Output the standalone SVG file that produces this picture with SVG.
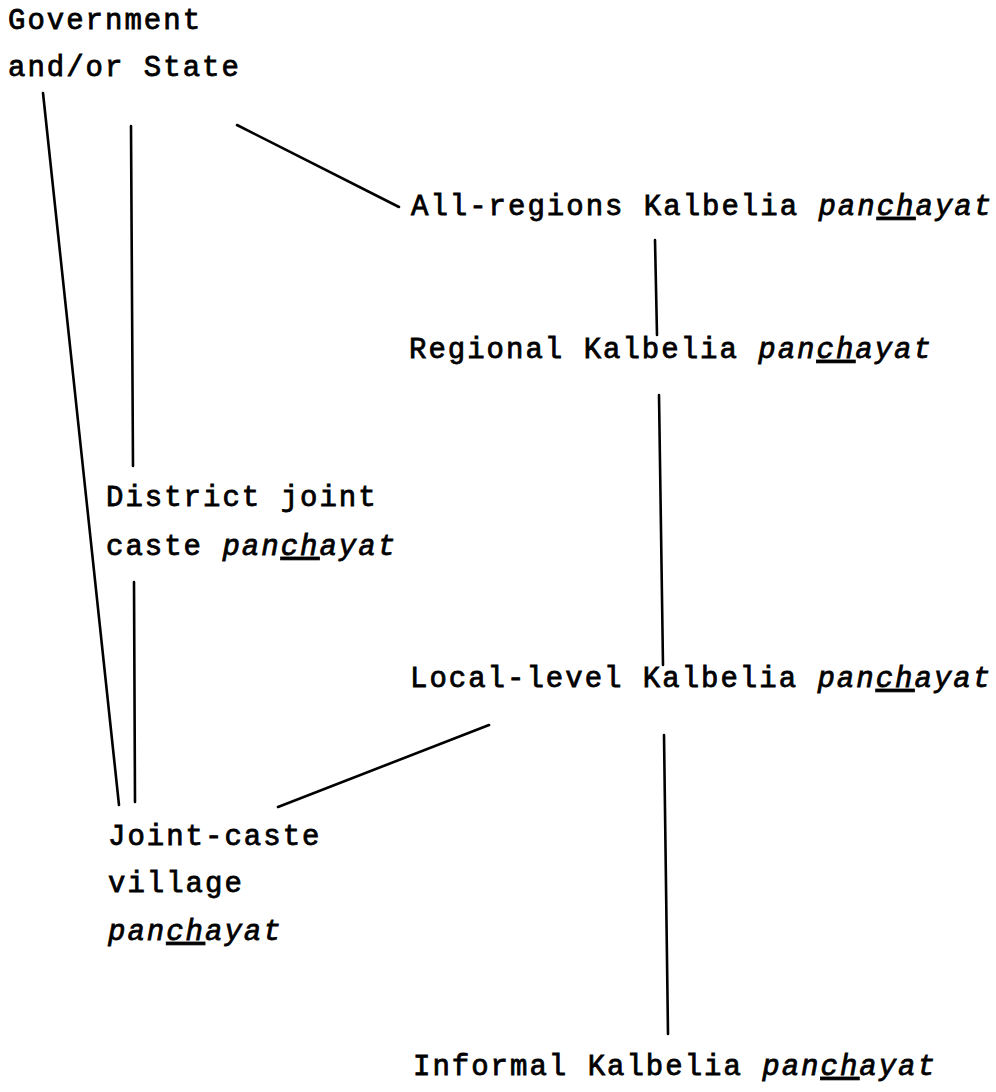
<svg xmlns="http://www.w3.org/2000/svg" width="996" height="1092" viewBox="0 0 996 1092">
<style>
text{font-family:"Liberation Mono","Courier New",monospace;font-size:29px;letter-spacing:2px;fill:#000;stroke:#000;stroke-width:0.8}
.i{font-style:italic}
.u{text-decoration:underline}
.c line{stroke:#000;stroke-width:2.6;stroke-linecap:round}
</style>
<rect width="996" height="1092" fill="#fff"/>
<g id="gov"><text x="8" y="29">Government</text><text x="8" y="76">and/or State</text></g>
<g id="allregions"><text x="411" y="215">All-regions Kalbelia <tspan class="i">pan<tspan class="u">ch</tspan>ayat</tspan></text></g>
<g id="regional"><text x="409" y="358">Regional Kalbelia <tspan class="i">pan<tspan class="u">ch</tspan>ayat</tspan></text></g>
<g id="district"><text x="106" y="506">District joint</text><text x="106" y="555">caste <tspan class="i">pan<tspan class="u">ch</tspan>ayat</tspan></text></g>
<g id="local"><text x="410" y="687">Local-level Kalbelia <tspan class="i">pan<tspan class="u">ch</tspan>ayat</tspan></text></g>
<g id="village"><text x="108" y="845">Joint-caste</text><text x="108" y="892">village</text><text x="108" y="940" class="i">pan<tspan class="u">ch</tspan>ayat</text></g>
<g id="informal"><text x="413" y="1075">Informal Kalbelia <tspan class="i">pan<tspan class="u">ch</tspan>ayat</tspan></text></g>
<g class="c" id="connectors">
<line x1="43" y1="93" x2="119" y2="805"/>
<line x1="131" y1="126" x2="133" y2="466"/>
<line x1="134" y1="582" x2="135" y2="802"/>
<line x1="237" y1="125" x2="399" y2="207"/>
<line x1="655" y1="240" x2="657" y2="335"/>
<line x1="659" y1="395" x2="663" y2="665"/>
<line x1="664" y1="735" x2="668" y2="1034"/>
<line x1="278" y1="807" x2="489" y2="725"/>
</g>
</svg>
